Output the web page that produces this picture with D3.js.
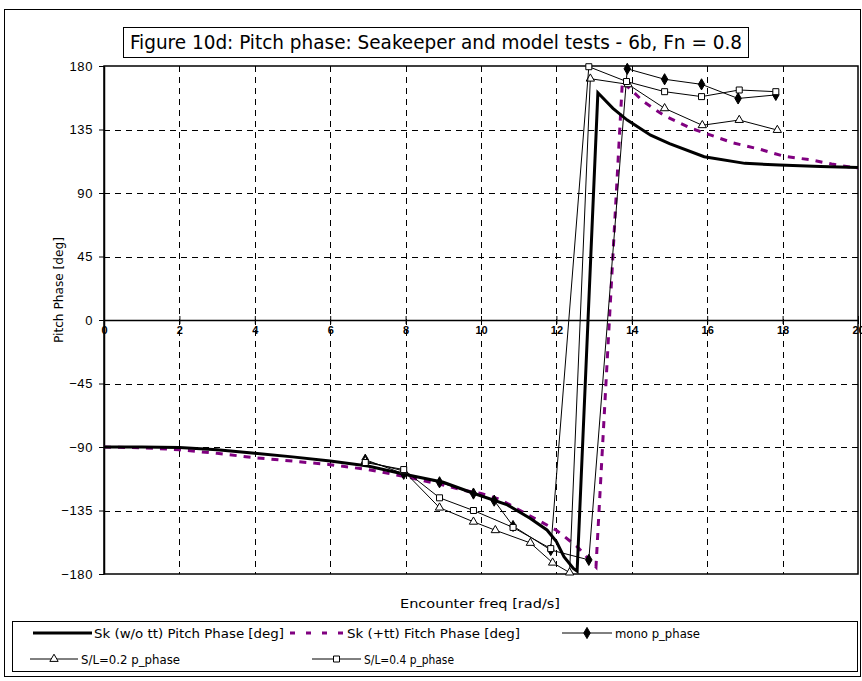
<!DOCTYPE html>
<html>
<head>
<meta charset="utf-8">
<script src="https://cdn.jsdelivr.net/npm/d3@7"></script>
<style>
  body { margin: 0; background: #fff; }
  svg { display: block; }
  text { font-family: "Liberation Sans", Arial, sans-serif; fill: #000; }
  .narrow { font-family: "Liberation Sans Narrow", "DejaVu Sans Condensed", "Liberation Sans", sans-serif; }
</style>
</head>
<body>
<svg id="chart" width="862" height="681"></svg>
<script>
// Axis ticks
const xTicks = [0, 2, 4, 6, 8, 10, 12, 14, 16, 18, 20];
const yTicks = [-180, -135, -90, -45, 0, 45, 90, 135, 180];

// Seakeeper prediction without transom terms
const skFreq  = [0, 1, 2, 3, 4, 5, 6, 7, 8, 9, 9.8, 10.7, 11.3, 11.75, 12, 12.2, 12.45, 12.55, 13.1, 13.5, 13.88, 14.5, 15, 15.92, 17, 17.91, 19, 20];
const skPhase = [-90, -90, -90.3, -92, -94.4, -97, -100, -103.5, -109.5, -115, -122.8, -131, -140.5, -148.8, -157, -167.7, -176, -178, 161, 150, 141.7, 131, 125, 115.7, 111, 109.8, 108.8, 108];

// Seakeeper prediction with transom terms
const skTtFreq  = [0, 1, 2, 3, 4, 5, 6, 7, 8, 9, 9.5, 10, 10.5, 11, 11.5, 12, 12.55, 13.05, 13.75, 14.3, 14.85, 15.56, 16.2, 16.7, 17.4, 18.04, 18.75, 19.3, 20];
const skTtPhase = [-90, -90.5, -92, -94.5, -97.6, -100, -102.5, -106, -111, -117, -120.5, -123, -127, -134.5, -141.7, -149, -160.6, -175, 169, 155, 145, 136, 130, 125.4, 121, 116, 113.5, 110.5, 107.5];

// Model tests
const monoFreq  = [6.93, 7.95, 8.9, 9.8, 10.35, 10.85, 11.85, 12.86, 13.88, 14.87, 15.85, 16.82, 17.82];
const monoPhase = [-99, -109, -115, -123, -128, -146, -163, -170, 178, 170.6, 167, 157, 159.5];

const sl02Freq  = [6.93, 7.95, 8.9, 9.8, 10.38, 11.31, 11.9, 12.35, 12.9, 13.9, 14.87, 15.87, 16.85, 17.86];
const sl02Phase = [-100, -107, -133, -143, -149, -158, -172, -179, 171, 167, 150, 138, 141.7, 134.6];

const sl04Freq  = [6.93, 7.95, 8.9, 9.8, 10.85, 11.85, 12.86, 13.86, 14.87, 15.85, 16.85, 17.82];
const sl04Phase = [-101, -106, -126, -135, -147, -162, 179.5, 169, 161.8, 158.3, 163, 161.8];

const seriesNames = ["Sk (w/o tt) Pitch Phase [deg]", "Sk (+tt) Fitch Phase [deg]", "mono p_phase", "S/L=0.2 p_phase", "S/L=0.4 p_phase"];

const zip = (xs, ys) => xs.map((x, i) => ({x, y: ys[i]}));

const svg = d3.select("#chart");
const plotL = 104, plotR = 858, plotT = 66, plotB = 574;

const x = d3.scaleLinear().domain([0, 20]).range([plotL, plotR]);
const y = d3.scaleLinear().domain([-180, 180]).range([plotB, plotT]);

// Outer chart frame
svg.append("rect").attr("x", 4.5).attr("y", 9.5).attr("width", 856).attr("height", 667)
  .attr("fill", "#fff").attr("stroke", "#000").attr("stroke-width", 1);

// Grid lines
const grid = svg.append("g").attr("stroke", "#000").attr("stroke-width", 1).attr("stroke-dasharray", "6,5");
xTicks.filter(v => v > 0 && v < 20).forEach(v => {
  grid.append("line").attr("x1", Math.round(x(v)) + 0.5).attr("x2", Math.round(x(v)) + 0.5)
    .attr("y1", plotT).attr("y2", plotB);
});
yTicks.filter(v => v !== 0 && Math.abs(v) !== 180).forEach(v => {
  grid.append("line").attr("x1", plotL).attr("x2", plotR)
    .attr("y1", Math.round(y(v)) + 0.5).attr("y2", Math.round(y(v)) + 0.5);
});

// Plot border
svg.append("rect").attr("x", plotL).attr("y", plotT).attr("width", plotR - plotL).attr("height", plotB - plotT)
  .attr("fill", "none").attr("stroke", "#000").attr("stroke-width", 1.5);

// Y axis
const yAxis = svg.append("g").attr("transform", `translate(${plotL},0)`)
  .call(d3.axisLeft(y).tickValues(yTicks).tickSize(5).tickSizeOuter(0).tickFormat(d3.format("d")));
yAxis.select(".domain").attr("stroke-width", 1.5);
yAxis.selectAll("text").attr("font-size", 13).attr("x", -11).attr("letter-spacing", 0.6)
  .style("font-family", '"Liberation Sans", Arial, sans-serif');

// X axis through zero
const xAxis = svg.append("g").attr("transform", `translate(0,${y(0)})`)
  .call(d3.axisBottom(x).tickValues(xTicks).tickSize(4).tickSizeOuter(0).tickFormat(d3.format("d")));
xAxis.select(".domain").attr("stroke-width", 1.5);
xAxis.selectAll(".tick line").attr("y1", -4);
xAxis.selectAll("text").attr("font-size", 11).attr("font-weight", "bold").attr("y", 6)
  .style("font-family", '"Liberation Sans", Arial, sans-serif');

// Axis titles
svg.append("text").attr("class", "narrow").attr("transform", `translate(63,290) rotate(-90)`).attr("text-anchor", "middle")
  .attr("font-size", 13).attr("textLength", 106).attr("lengthAdjust", "spacingAndGlyphs").text("Pitch Phase [deg]");
svg.append("text").attr("class", "narrow").attr("x", 480).attr("y", 608).attr("text-anchor", "middle")
  .attr("font-size", 13).attr("textLength", 160).attr("lengthAdjust", "spacingAndGlyphs").text("Encounter freq [rad/s]");

// Title box
svg.append("rect").attr("x", 123.5).attr("y", 27.5).attr("width", 625).attr("height", 30)
  .attr("fill", "#fff").attr("stroke", "#000").attr("stroke-width", 1);
svg.append("text").attr("class", "narrow").attr("x", 436).attr("y", 49).attr("text-anchor", "middle")
  .attr("font-size", 19).attr("textLength", 612).attr("lengthAdjust", "spacingAndGlyphs")
  .text("Figure 10d: Pitch phase: Seakeeper and model tests - 6b, Fn = 0.8");

const line = d3.line().x(d => x(d.x)).y(d => y(d.y));
const plot = svg.append("g");

// Seakeeper curves
plot.append("path").datum(zip(skTtFreq, skTtPhase)).attr("d", line)
  .attr("fill", "none").attr("stroke", "#800080").attr("stroke-width", 3).attr("stroke-dasharray", "7,7");
plot.append("path").datum(zip(skFreq, skPhase)).attr("d", line)
  .attr("fill", "none").attr("stroke", "#000").attr("stroke-width", 3);

// Marker shapes
const diamond = d3.symbol().type(d3.symbolDiamond).size(36);
const triangle = d3.symbol().type(d3.symbolTriangle).size(30);
const square = d3.symbol().type(d3.symbolSquare).size(36);

function drawTest(xs, ys, sym, filled) {
  const data = zip(xs, ys);
  plot.append("path").datum(data).attr("d", line)
    .attr("fill", "none").attr("stroke", "#000").attr("stroke-width", 1);
  plot.append("g").selectAll("path").data(data).join("path")
    .attr("transform", d => `translate(${x(d.x)},${y(d.y)})`)
    .attr("d", sym)
    .attr("fill", filled ? "#000" : "#fff").attr("stroke", "#000").attr("stroke-width", 1);
}
drawTest(monoFreq, monoPhase, diamond, true);
drawTest(sl02Freq, sl02Phase, triangle, false);
drawTest(sl04Freq, sl04Phase, square, false);

// Legend
const lg = svg.append("g");
lg.append("rect").attr("x", 12.5).attr("y", 621.5).attr("width", 845).attr("height", 50)
  .attr("fill", "#fff").attr("stroke", "#000").attr("stroke-width", 1);
const row1 = 633, row2 = 659;
function legendText(xp, yp, len, str) {
  lg.append("text").attr("class", "narrow").attr("x", xp).attr("y", yp + 4.5).attr("font-size", 12.5)
    .attr("textLength", len).attr("lengthAdjust", "spacingAndGlyphs").text(str);
}
lg.append("line").attr("x1", 33).attr("x2", 92).attr("y1", row1).attr("y2", row1)
  .attr("stroke", "#000").attr("stroke-width", 3);
legendText(94, row1, 190, seriesNames[0]);
lg.append("line").attr("x1", 290).attr("x2", 345).attr("y1", row1).attr("y2", row1)
  .attr("stroke", "#800080").attr("stroke-width", 3).attr("stroke-dasharray", "5,11");
legendText(347, row1, 173, seriesNames[1]);

const legendTests = [
  {x1: 562, x2: 612, y: row1, sym: diamond, filled: true, name: seriesNames[2], len: 85},
  {x1: 30, x2: 78, y: row2, sym: triangle, filled: false, name: seriesNames[3], len: 99},
  {x1: 312, x2: 361, y: row2, sym: square, filled: false, name: seriesNames[4], len: 90}
];
legendTests.forEach(t => {
  lg.append("line").attr("x1", t.x1).attr("x2", t.x2).attr("y1", t.y).attr("y2", t.y)
    .attr("stroke", "#000").attr("stroke-width", 1);
  lg.append("path").attr("transform", `translate(${(t.x1 + t.x2) / 2},${t.y})`).attr("d", t.sym)
    .attr("fill", t.filled ? "#000" : "#fff").attr("stroke", "#000");
  legendText(t.x2 + 3, t.y, t.len, t.name);
});
</script>
</body>
</html>
